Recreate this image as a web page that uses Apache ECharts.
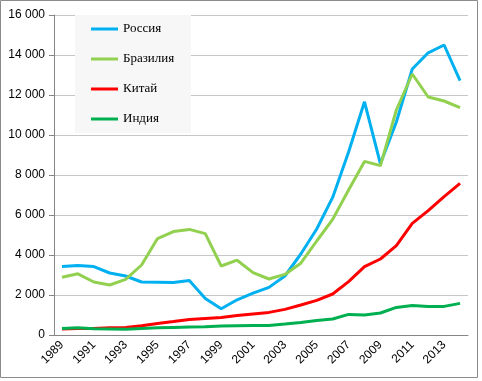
<!DOCTYPE html>
<html><head><meta charset="utf-8">
<script src="https://cdn.jsdelivr.net/npm/echarts@6/dist/echarts.min.js"></script>
<style>html,body{margin:0;padding:0;background:#fff}#c{width:482px;height:381px}</style>
</head><body><div id="c"></div>
<script>
const years = ['1989','1990','1991','1992','1993','1994','1995','1996','1997','1998','1999','2000','2001','2002','2003','2004','2005','2006','2007','2008','2009','2010','2011','2012','2013','2014'];
const russia = [3420,3480,3420,3100,2950,2650,2640,2630,2720,1830,1310,1760,2090,2380,2950,4050,5300,6880,9150,11660,8560,10650,13300,14110,14500,12720];
const brazil = [2890,3060,2650,2500,2780,3500,4820,5170,5280,5070,3450,3740,3120,2800,3030,3590,4700,5780,7250,8680,8470,11250,13050,11900,11700,11370];
const china = [300,320,330,360,370,460,580,670,780,830,880,970,1050,1130,1280,1500,1730,2050,2670,3420,3800,4470,5580,6220,6920,7580];
const india = [330,360,310,300,290,330,360,380,400,410,450,460,470,480,550,630,720,800,1030,1000,1100,1380,1470,1430,1430,1580];
const seriesNames = ['Россия','Бразилия','Китай','Индия'];
const colors = ['#00B0F0','#92D050','#FF0000','#00B050'];
const yTicks = {min:0, max:16000, interval:2000};

const chart = echarts.init(document.getElementById('c'), null, {renderer:'canvas'});
const fmt = v => { const s = String(v); return s.length > 3 ? s.slice(0, s.length-3) + ' ' + s.slice(-3) : s; };
const dataSets = [russia, brazil, china, india];
chart.setOption({
  backgroundColor:'#fff',
  animation:false,
  color: colors,
  grid:{left:54, right:14, top:15, bottom:46},
  graphic:[
    {type:'rect', z:10, shape:{x:0.5,y:0.5,width:477,height:377}, style:{fill:'none', stroke:'#8c8c8c', lineWidth:1}},
    {type:'rect', z:3, shape:{x:75,y:15,width:116,height:118}, style:{fill:'#f7f7f7'}}
  ],
  legend:{
    orient:'vertical', left:91, top:21, z:4, padding:0,
    itemWidth:27, itemHeight:3, itemGap:14, icon:'rect',
    data: seriesNames,
    textStyle:{fontFamily:"'Liberation Serif', 'DejaVu Serif', serif", fontSize:13, color:'#000', lineHeight:16}
  },
  xAxis:{
    type:'category', data: years, boundaryGap:true,
    axisLine:{lineStyle:{color:'#868686', width:1}},
    axisTick:{interval:1, length:5, lineStyle:{color:'#868686'}},
    axisLabel:{interval:1, rotate:45, margin:8, fontFamily:"'Liberation Sans', sans-serif", fontSize:12, color:'#000'}
  },
  yAxis:{
    type:'value', min:yTicks.min, max:yTicks.max, interval:yTicks.interval,
    axisLine:{show:true, lineStyle:{color:'#868686', width:1}},
    axisTick:{show:true, length:5, lineStyle:{color:'#868686'}},
    axisLabel:{margin:9, fontFamily:"'Liberation Sans', sans-serif", fontSize:12, color:'#000', formatter: fmt},
    splitLine:{lineStyle:{color:'#c6c6c6', width:1}}
  },
  series: seriesNames.map((n,i)=>({
    name:n, type:'line', data: dataSets[i], symbol:'none', smooth:false, z:2,
    lineStyle:{width:3, color: colors[i]}, itemStyle:{color:colors[i]}
  }))
});
</script></body></html>
